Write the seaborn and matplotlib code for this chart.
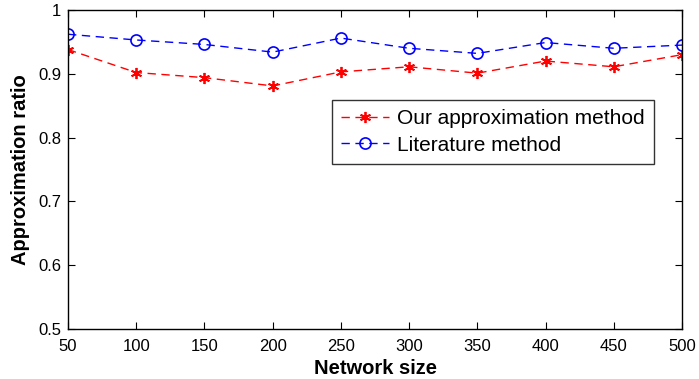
import pandas as pd
import seaborn as sns
import matplotlib.pyplot as plt

network_size = [50, 100, 150, 200, 250, 300, 350, 400, 450, 500]
ours = [0.938, 0.902, 0.894, 0.881, 0.903, 0.911, 0.901, 0.920, 0.911, 0.930]
literature = [0.962, 0.953, 0.946, 0.934, 0.956, 0.940, 0.932, 0.949, 0.940, 0.945]

sns.set_style("ticks")
plt.rcParams['font.family'] = ['Liberation Sans', 'DejaVu Sans']
plt.rcParams['text.color'] = 'black'
plt.rcParams['axes.labelcolor'] = 'black'
plt.rcParams['xtick.color'] = 'black'
plt.rcParams['ytick.color'] = 'black'

df = pd.DataFrame({
    'Network size': network_size * 2,
    'ratio': ours + literature,
    'method': ['Our approximation method'] * 10 + ['Literature method'] * 10,
})

fig = plt.figure(figsize=(6.99, 3.79), dpi=100)
ax = fig.add_axes([68 / 699, 50 / 379, 614 / 699, 319 / 379])

dash = (0, (6, 4))
sns.lineplot(data=df[df['method'] == 'Our approximation method'], x='Network size', y='ratio',
             color='red', marker=(6, 2, 0), markersize=8, markeredgecolor='red',
             markeredgewidth=1.3, linestyle=dash, linewidth=1,
             label='Our approximation method', ax=ax)
sns.lineplot(data=df[df['method'] == 'Literature method'], x='Network size', y='ratio',
             color='blue', marker='o', markersize=8, markerfacecolor='none', markeredgecolor='blue',
             markeredgewidth=1.2, linestyle=dash, linewidth=1, label='Literature method', ax=ax)

ax.set_xlim(50, 500)
ax.set_ylim(0.5, 1)
ax.set_xticks(network_size)
ax.set_yticks([0.5, 0.6, 0.7, 0.8, 0.9, 1])
ax.set_yticklabels(['0.5', '0.6', '0.7', '0.8', '0.9', '1'])
ax.tick_params(direction='in', top=True, right=True, labelsize=12, length=5)
ax.tick_params(axis='x', pad=7)
ax.tick_params(axis='y', pad=5)
for s in ax.spines.values():
    s.set_linewidth(1)
    s.set_color('black')

ax.set_xlabel('Network size', fontsize=14.5, fontweight='bold', labelpad=4)
ax.set_ylabel('Approximation ratio', fontsize=14.5, fontweight='bold', labelpad=6)

leg = ax.legend(loc='upper left', bbox_to_anchor=(264 / 614, 229 / 319), fontsize=15,
                frameon=True, fancybox=False, edgecolor='black', handlelength=2.3,
                borderpad=0.45, labelspacing=0.35, handletextpad=0.35, borderaxespad=0)
leg.get_frame().set_linewidth(1)

fig.savefig('out.png', dpi=100)
